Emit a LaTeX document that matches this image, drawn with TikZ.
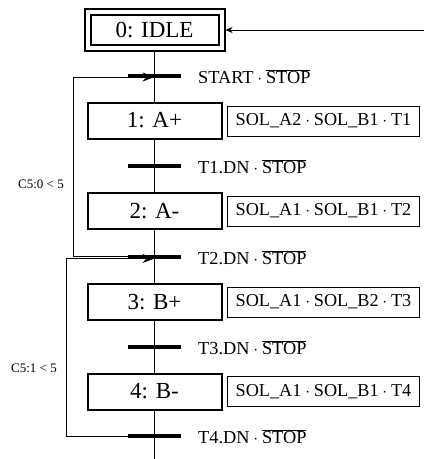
\documentclass[tikz,border=0pt]{standalone}
\usepackage{fontspec}
\setmainfont{Liberation Serif}
\usetikzlibrary{arrows.meta}
\pgfdeclarelayer{bg}
\pgfsetlayers{bg,main}
\begin{document}
\begin{tikzpicture}[x=1pt,y=-1pt,
  steplabel/.style={font=\fontsize{23}{26}\selectfont},
  stepbox/.style={draw,line width=2pt,minimum width=134pt,minimum height=36pt,inner sep=0pt,steplabel},
  actbox/.style={draw,line width=1pt,minimum width=192pt,minimum height=30pt,inner sep=0pt,font=\fontsize{18.2}{21}\selectfont},
  bar/.style={fill=black,minimum width=53pt,minimum height=4.5pt,inner sep=0pt},
  cond/.style={anchor=west,font=\fontsize{18.3}{21}\selectfont,inner sep=0pt},
  looplabel/.style={font=\fontsize{13}{15}\selectfont,inner sep=0pt},
  flow/.style={line width=0.9pt},
  loopflow/.style={line width=0.9pt,-{Stealth[length=12pt,width=9pt]}},
  ret/.style={line width=0.9pt,-{Stealth[length=7pt,width=6pt,inset=2pt]}}
]
\useasboundingbox (0,0) rectangle (424,459);

% initial step
\node[draw,line width=2pt,minimum width=128pt,minimum height=30pt,inner sep=0pt,steplabel] (idle) at (154.5,30) {0: IDLE};
\node[draw,line width=2pt,minimum width=140pt,minimum height=42pt,inner sep=0pt] (idleo) at (154.5,30) {};

% steps
\node[stepbox] (s1) at (154.5,120.5) {1: A+};
\node[stepbox] (s2) at (154.5,211) {2: A-};
\node[stepbox] (s3) at (154.5,302) {3: B+};
\node[stepbox] (s4) at (154.5,391.5) {4: B-};

% actions
\node[actbox] (a1) at (323.5,121) {$\mbox{SOL\_A2}\cdot\mbox{SOL\_B1}\cdot\mbox{T1}$};
\node[actbox] (a2) at (323.5,211) {$\mbox{SOL\_A1}\cdot\mbox{SOL\_B1}\cdot\mbox{T2}$};
\node[actbox] (a3) at (323.5,302) {$\mbox{SOL\_A1}\cdot\mbox{SOL\_B2}\cdot\mbox{T3}$};
\node[actbox] (a4) at (323.5,391.5) {$\mbox{SOL\_A1}\cdot\mbox{SOL\_B1}\cdot\mbox{T4}$};

% transitions
\node[bar] (t0) at (154.5,76) {};
\node[bar] (t1) at (154.5,166) {};
\node[bar] (t2) at (154.5,257) {};
\node[bar] (t3) at (154.5,347) {};
\node[bar] (t4) at (154.5,436) {};

\node[cond] (c0) at (198,77) {$\mbox{START}\cdot\overline{\mbox{STOP}}$};
\node[cond] (c1) at (198,167) {$\mbox{T1.DN}\cdot\overline{\mbox{STOP}}$};
\node[cond] (c2) at (198,258) {$\mbox{T2.DN}\cdot\overline{\mbox{STOP}}$};
\node[cond] (c3) at (198,348) {$\mbox{T3.DN}\cdot\overline{\mbox{STOP}}$};
\node[cond] (c4) at (198,437) {$\mbox{T4.DN}\cdot\overline{\mbox{STOP}}$};

% loop labels
\node[looplabel] (l1) at (41,184) {C5:0 < 5};
\node[looplabel] (l2) at (34,368) {C5:1 < 5};

\coordinate (bottom) at (154.5,459);
\coordinate (rin) at (424,30);

\begin{pgfonlayer}{bg}
  \draw[flow] (idleo.south) -- (t0.center) -- (s1.north);
  \draw[flow] (s1.south) -- (t1.center) -- (s2.north);
  \draw[flow] (s2.south) -- (t2.center) -- (s3.north);
  \draw[flow] (s3.south) -- (t3.center) -- (s4.north);
  \draw[flow] (s4.south) -- (t4.center) -- (bottom);
  \draw[loopflow] ([yshift=0.5pt]t2.west) -- ++(-54,0) |- ([yshift=-1pt]t0.center);
  \draw[loopflow] (t4.west) -- ++(-61,0) |- ([yshift=-1.5pt]t2.center);
\end{pgfonlayer}
\draw[ret] (rin) -- (idleo.east);
\end{tikzpicture}
\end{document}
